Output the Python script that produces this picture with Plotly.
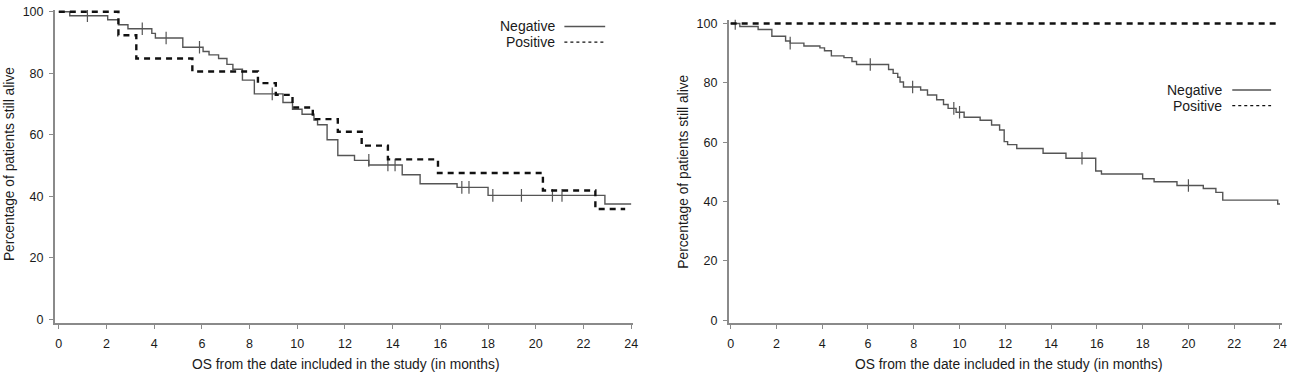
import plotly.graph_objects as go

# ---------------- data ----------------
# Left panel
left_neg_t = [0, 0.46, 2.05, 2.5, 2.9, 3.9, 4.05, 5.2, 6.05, 6.3, 6.7, 7.05, 7.3, 7.7, 8.2, 9.4, 9.8, 10.2,
              10.7, 10.85, 11.25, 11.7, 12.4, 13.0, 14.4, 15.15, 16.7, 18.0, 22.9, 24.0]
left_neg_v = [100, 98.7, 97.4, 95.8, 94.5, 93.0, 91.5, 88.5, 87.1, 86.0, 84.8, 82.9, 81.3, 77.8, 73.3, 70.5, 68.3, 66.7,
              64.8, 63.3, 58.4, 53.3, 51.7, 50.2, 47.0, 44.1, 42.9, 40.3, 37.5, 37.5]
left_neg_cens_t = [1.2, 3.5, 4.5, 5.9, 8.95, 13.0, 13.8, 14.1, 16.9, 17.2, 18.2, 19.4, 20.7, 21.1]
left_neg_cens_v = [98.7, 94.5, 91.5, 88.5, 73.3, 51.7, 50.2, 50.2, 42.9, 42.9, 40.3, 40.3, 40.3, 40.3]

left_pos_t = [0, 2.5, 3.25, 5.6, 8.35, 9.1, 9.8, 10.65, 11.7, 12.7, 13.8, 15.9, 20.3, 22.5, 23.75]
left_pos_v = [100, 92.4, 84.8, 80.6, 76.8, 73.0, 68.9, 65.1, 61.0, 56.5, 52.0, 47.6, 41.9, 35.9, 35.9]

# Right panel
right_neg_t = [0, 0.4, 1.2, 1.8, 2.4, 2.6, 3.2, 3.9, 4.1, 4.4, 4.95, 5.3, 5.5, 6.9, 7.1, 7.3, 7.4, 7.55, 8.3, 8.6,
               9.0, 9.3, 9.5, 9.85, 10.2, 10.9, 11.4, 11.75, 11.95, 12.1, 12.5, 13.65, 14.65, 15.95, 16.2, 18.0,
               18.5, 19.5, 20.65, 21.2, 21.5, 23.9, 24.0]
right_neg_v = [100, 99.0, 98.0, 95.7, 94.1, 93.4, 92.4, 91.8, 90.8, 89.1, 88.5, 87.2, 86.2, 84.5, 83.2, 81.9, 80.3,
               78.6, 77.6, 75.9, 74.3, 72.7, 71.4, 70.1, 68.4, 67.4, 65.8, 64.1, 60.2, 59.2, 57.9, 56.3, 54.6, 50.3,
               49.3, 47.7, 46.7, 45.4, 44.4, 43.1, 40.5, 39.2, 39.2]
right_neg_cens_t = [0.2, 2.6, 6.1, 7.95, 9.75, 10.0, 15.35, 20.0]
right_neg_cens_v = [100, 93.4, 86.2, 78.6, 71.4, 70.1, 54.6, 45.4]

right_pos_t = [0, 24.0]
right_pos_v = [100, 100]

x_ticks = list(range(0, 25, 2))
y_ticks = [0, 20, 40, 60, 80, 100]
legend_labels = ["Negative", "Positive"]
y_title = "Percentage of patients still alive"
x_title = "OS from the date included in the study (in months)"

# ---------------- figure ----------------
W, H = 1293, 378
NEG_COLOR = "#555555"
POS_COLOR = "#111111"
AXIS_COLOR = "#8a8a8a"
TEXT_COLOR = "#1a1a1a"
FONT = "Liberation Sans, Arial, sans-serif"

fig = go.Figure()

def add_panel(xa, ya, neg_t, neg_v, cens_t, cens_v, pos_t, pos_v):
    fig.add_trace(go.Scatter(x=neg_t, y=neg_v, mode="lines", line=dict(shape="hv", color=NEG_COLOR, width=1.4),
                             xaxis=xa, yaxis=ya, showlegend=False, hoverinfo="skip"))
    fig.add_trace(go.Scatter(x=cens_t, y=cens_v, mode="markers",
                             marker=dict(symbol="line-ns", size=9, line=dict(color=NEG_COLOR, width=1.2)),
                             xaxis=xa, yaxis=ya, showlegend=False, hoverinfo="skip"))
    fig.add_trace(go.Scatter(x=pos_t, y=pos_v, mode="lines",
                             line=dict(shape="hv", color=POS_COLOR, width=2.4, dash="6px,5px"),
                             xaxis=xa, yaxis=ya, showlegend=False, hoverinfo="skip"))

add_panel("x", "y", left_neg_t, left_neg_v, left_neg_cens_t, left_neg_cens_v, left_pos_t, left_pos_v)
add_panel("x2", "y2", right_neg_t, right_neg_v, right_neg_cens_t, right_neg_cens_v, right_pos_t, right_pos_v)

def px_x(p):
    return min(1.0, max(0.0, p / W))

def px_y(p):
    return min(1.0, max(0.0, 1 - p / H))

axis_common = dict(showgrid=False, zeroline=False, showline=True, linecolor=AXIS_COLOR, linewidth=1.5,
                   ticks="outside", tickcolor=AXIS_COLOR, tickwidth=1.2,
                   tickfont=dict(family=FONT, size=12.5, color=TEXT_COLOR))

fig.update_layout(
    width=W, height=H, margin=dict(l=0, r=0, t=0, b=0, pad=0), autosize=False,
    plot_bgcolor="white", paper_bgcolor="white",
    xaxis=dict(domain=[px_x(54), px_x(635)], range=[-0.17, 24.08], tickvals=x_ticks, ticklen=4,
               ticklabelstandoff=4, anchor="y", **axis_common),
    yaxis=dict(domain=[px_y(326), px_y(5)], range=[-1.27, 100.63], tickvals=y_ticks, ticklen=4,
               ticklabelstandoff=3, anchor="x", **axis_common),
    xaxis2=dict(domain=[px_x(731), px_x(1287)], range=[-0.09, 24.09], tickvals=x_ticks, ticklen=4,
                ticklabelstandoff=4, anchor="y2", **axis_common),
    yaxis2=dict(domain=[px_y(326), px_y(15)], range=[-1.0, 101.3], tickvals=y_ticks, ticklen=4,
                ticklabelstandoff=3, anchor="x2", **axis_common),
)

annotations = []
shapes = []
# axis titles
for xc, yc in [(8, 163), (686, 171)]:
    annotations.append(dict(x=px_x(xc), y=px_y(yc), xref="paper", yref="paper", text=y_title, textangle=-90,
                            xanchor="center", yanchor="middle", showarrow=False,
                            font=dict(family=FONT, size=13.8, color=TEXT_COLOR)))
for xc in [347, 1013]:
    annotations.append(dict(x=px_x(xc), y=px_y(368), xref="paper", yref="paper", text=x_title,
                            xanchor="center", yanchor="middle", showarrow=False,
                            font=dict(family=FONT, size=13.8, color=TEXT_COLOR)))

# legends (text right-aligned, sample line to the right)
for text_end, line_x0, line_x1, y0 in [(559, 566, 607, 22), (1229, 1237, 1276, 87)]:
    for i, lab in enumerate(legend_labels):
        yy = y0 + 16 * i
        annotations.append(dict(x=px_x(text_end), y=px_y(yy), xref="paper", yref="paper", text=lab,
                                xanchor="right", yanchor="middle", showarrow=False,
                                font=dict(family=FONT, size=14, color=TEXT_COLOR)))
        if i == 0:
            line = dict(color=NEG_COLOR, width=1.6)
        else:
            line = dict(color=POS_COLOR, width=1.2, dash="3px,3px")
        shapes.append(dict(type="line", xref="paper", yref="paper", x0=px_x(line_x0), x1=px_x(line_x1),
                           y0=px_y(yy), y1=px_y(yy), line=line))

fig.update_layout(annotations=annotations, shapes=shapes)

fig.write_html("out.html", config={"displayModeBar": False},
               post_script="document.body.style.margin='0';document.body.style.overflow='hidden';")
